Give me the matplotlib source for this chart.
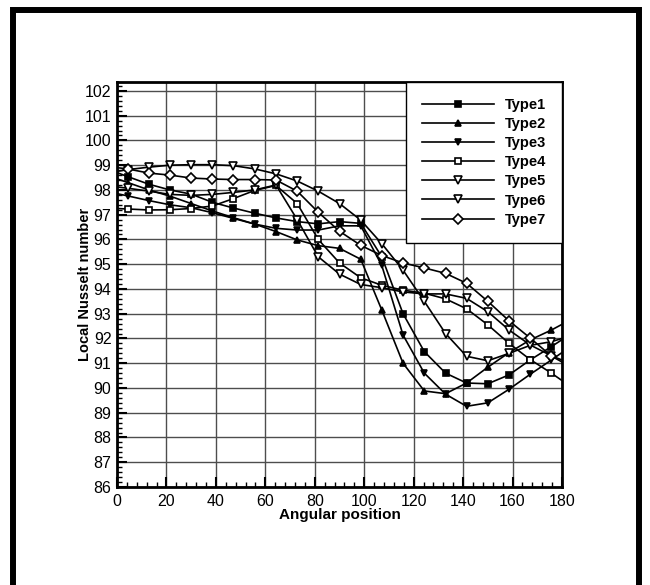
import matplotlib
matplotlib.use("Agg")
import matplotlib.pyplot as plt
from matplotlib.patches import Rectangle
from matplotlib.ticker import MultipleLocator

plt.rcParams['font.family'] = ['Liberation Sans', 'DejaVu Sans']

# angular positions (first and last are the line ends, the rest carry markers)
angle = [0, 4.3, 12.9, 21.4, 30, 38.6, 47.1, 55.7, 64.3, 72.9, 81.4, 90, 98.6,
         107.1, 115.7, 124.3, 132.9, 141.4, 150, 158.6, 167.1, 175.7, 180]

type1 = [98.7, 98.54, 98.23, 98.0, 97.83, 97.5, 97.27, 97.06, 96.87, 96.72, 96.63, 96.72,
         96.65, 95.3, 93.0, 91.47, 90.6, 90.2, 90.17, 90.53, 91.13, 91.67, 91.95]
type2 = [98.45, 98.3, 98.0, 97.75, 97.45, 97.15, 96.88, 96.62, 96.32, 95.98, 95.75, 95.64,
         95.2, 93.15, 91.0, 89.88, 89.77, 90.2, 90.84, 91.43, 91.94, 92.34, 92.57]
type3 = [97.85, 97.76, 97.57, 97.4, 97.28, 97.08, 96.85, 96.62, 96.45, 96.38, 96.38, 96.55,
         96.55, 94.95, 92.14, 90.6, 89.75, 89.26, 89.4, 89.95, 90.55, 91.13, 91.43]
type4 = [97.25, 97.23, 97.19, 97.2, 97.25, 97.35, 97.65, 97.98, 98.18, 97.45, 96.0, 95.05,
         94.45, 94.15, 93.95, 93.83, 93.6, 93.2, 92.55, 91.8, 91.15, 90.6, 90.3]
type5 = [98.12, 98.07, 97.95, 97.82, 97.78, 97.82, 97.9, 98.0, 98.2, 96.8, 95.3, 94.6,
         94.18, 94.05, 93.88, 93.8, 93.8, 93.62, 93.08, 92.34, 91.74, 91.3, 91.13]
type6 = [98.75, 98.82, 98.92, 99.0, 99.02, 99.02, 98.98, 98.85, 98.65, 98.36, 97.95, 97.45,
         96.78, 95.83, 94.76, 93.5, 92.2, 91.28, 91.1, 91.4, 91.72, 91.87, 92.0]
type7 = [98.9, 98.85, 98.68, 98.6, 98.48, 98.44, 98.42, 98.42, 98.4, 97.95, 97.1, 96.33,
         95.76, 95.35, 95.05, 94.85, 94.63, 94.23, 93.5, 92.71, 92.02, 91.29, 91.05]

labels = ['Type1', 'Type2', 'Type3', 'Type4', 'Type5', 'Type6', 'Type7']
series = [type1, type2, type3, type4, type5, type6, type7]
markers = ['s', '^', 'v', 's', 'v', 'v', 'D']
sizes = [5, 4, 4.5, 5, 5.5, 5.5, 5]
filled = [True, True, True, False, False, False, False]

fig = plt.figure(figsize=(6.5, 5.85), dpi=100)
ax = fig.add_axes([117 / 650, 1 - 487 / 585, 445 / 650, 405 / 585])

for label, y, m, s, f in zip(labels, series, markers, sizes, filled):
    ax.plot(angle, y, color='k', lw=1.2, marker=m, ms=s,
            mfc='k' if f else 'white', mec='k', mew=1.2,
            markevery=list(range(1, len(angle) - 1)), label=label)

ax.set_xlim(0, 180)
ax.set_ylim(86, 102.36)
ax.xaxis.set_major_locator(MultipleLocator(20))
ax.xaxis.set_minor_locator(MultipleLocator(4))
ax.yaxis.set_major_locator(MultipleLocator(1))
ax.yaxis.set_minor_locator(MultipleLocator(0.2))
ax.tick_params(which='major', direction='in', length=7, width=1.5, labelsize=11.5, pad=4)
ax.tick_params(which='minor', direction='in', length=3.5, width=1)
ax.tick_params(axis='x', which='major', pad=5)
ax.grid(which='major', color='0.3', lw=1)
ax.set_axisbelow(True)
for sp in ax.spines.values():
    sp.set_linewidth(2)

ax.set_xlabel('Angular position', fontsize=11, fontweight='bold')
ax.xaxis.set_label_coords(0.5, -0.052)
ax.set_ylabel('Local Nusselt number', fontsize=10.5, fontweight='bold')
ax.yaxis.set_label_coords(-0.057, 0.5)

leg = ax.legend(loc='upper right', bbox_to_anchor=(1.0, 1.0), fancybox=False,
                edgecolor='k', framealpha=1, borderaxespad=0, borderpad=1.1,
                labelspacing=0.35, handlelength=4.9, handletextpad=0.75,
                prop={'size': 10.5, 'weight': 'bold'})
leg.get_frame().set_linewidth(1)

# thick page border (open at the bottom)
fig.patches.append(Rectangle((13 / 650, -0.1), 626 / 650, (585 - 10) / 585 + 0.1,
                             transform=fig.transFigure, fill=False, lw=4.3, ec='k'))

plt.savefig('out.png', dpi=100)
